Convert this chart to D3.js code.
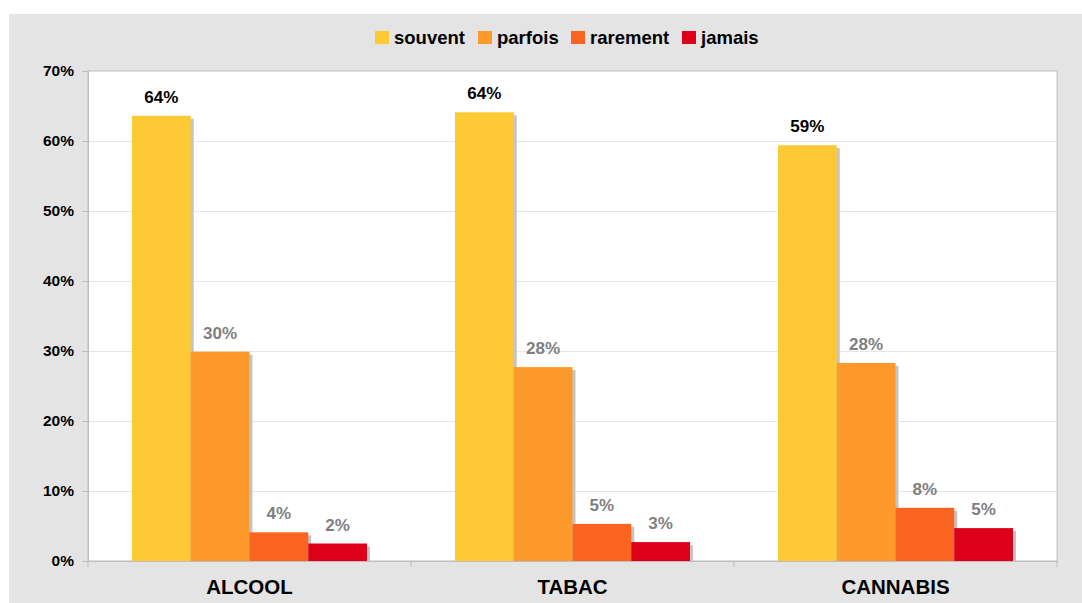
<!DOCTYPE html>
<html>
<head>
<meta charset="utf-8">
<script src="https://cdn.jsdelivr.net/npm/d3@7"></script>
<style>
  body { margin: 0; background: #fff; }
  svg { display: block; font-family: "Liberation Sans", Arial, sans-serif; font-weight: bold; }
</style>
</head>
<body>
<div id="chart"></div>
<script>
// Chart data.
var categories = ['ALCOOL', 'TABAC', 'CANNABIS'];
var seriesNames = ['souvent', 'parfois', 'rarement', 'jamais'];
var seriesColors = ['#fdc935', '#fd9a2b', '#fc6422', '#dc001a'];
var souvent = [63.6, 64.1, 59.4];
var parfois = [29.9, 27.7, 28.3];
var rarement = [4.1, 5.3, 7.6];
var jamais = [2.5, 2.7, 4.7];
var valueLabels = [
  ['64%', '30%', '4%', '2%'],
  ['64%', '28%', '5%', '3%'],
  ['59%', '28%', '8%', '5%']
];
var yTicks = [0, 10, 20, 30, 40, 50, 60, 70];

var series = [souvent, parfois, rarement, jamais];

var frame = { width: 1082, height: 603 };
var padding = { top: 71, left: 88, bottom: 42, right: 25 };
var size = {
  width: frame.width - padding.left - padding.right,
  height: frame.height - padding.top - padding.bottom
};

function translate(x, y) {
  return 'translate(' + x + ', ' + y + ')';
}

var svg = d3.select('#chart').append('svg')
  .attr('width', frame.width)
  .attr('height', frame.height);

// grey panel behind everything
svg.append('rect')
  .attr('x', 9).attr('y', 14)
  .attr('width', frame.width - 9).attr('height', frame.height - 14)
  .attr('fill', '#e4e4e4');

// legend
var legendX = [375, 478, 571, 682];
var legend = svg.append('g');
seriesNames.forEach(function(name, ii) {
  legend.append('rect')
    .attr('x', legendX[ii]).attr('y', 31)
    .attr('width', 14).attr('height', 13)
    .attr('fill', seriesColors[ii]);
  legend.append('text')
    .attr('x', legendX[ii] + 19).attr('y', 44)
    .attr('font-size', 18.5)
    .attr('fill', '#000')
    .text(name);
});

var g = svg.append('g').attr('transform', translate(padding.left, padding.top));

var x0 = d3.scaleBand()
  .domain(categories)
  .range([0, size.width]);

var x1 = d3.scaleBand()
  .domain(seriesNames)
  .range([44, x0.bandwidth() - 44]);

var y = d3.scaleLinear()
  .domain([0, 70])
  .range([size.height, 0]);

g.append('rect')
  .attr('width', size.width)
  .attr('height', size.height)
  .attr('fill', '#fff')
  .attr('stroke', '#bdbdbd');

// gridlines
g.selectAll('line.grid')
  .data(yTicks.slice(1, -1))
  .enter()
  .append('line')
  .attr('x1', 0).attr('x2', size.width)
  .attr('y1', function(d) { return y(d) + 0.5; })
  .attr('y2', function(d) { return y(d) + 0.5; })
  .attr('stroke', '#e6e6e6');

categories.forEach(function(cat, ci) {
  var cg = g.append('g').attr('transform', translate(x0(cat), 0));
  seriesNames.forEach(function(name, si) {
    var v = series[si][ci];
    var bx = x1(name);
    var bw = x1.bandwidth();
    // drop shadow
    cg.append('rect')
      .attr('x', bx + 3).attr('y', y(v) + 3)
      .attr('width', bw).attr('height', size.height - y(v) - 3)
      .attr('fill', '#c4c4c4');
    cg.append('rect')
      .attr('x', bx).attr('y', y(v))
      .attr('width', bw).attr('height', size.height - y(v))
      .attr('fill', seriesColors[si]);
    cg.append('text')
      .attr('x', bx + bw / 2)
      .attr('y', y(v) - 13)
      .attr('text-anchor', 'middle')
      .attr('font-size', 17)
      .attr('fill', si === 0 ? '#000' : '#7f7f7f')
      .text(valueLabels[ci][si]);
  });
});

// y axis
var yAxis = d3.axisLeft(y)
  .tickValues(yTicks)
  .tickSize(6)
  .tickPadding(8)
  .tickFormat(function(d) { return d + '%'; });

var ya = g.append('g').call(yAxis);
ya.select('.domain').attr('stroke', '#bdbdbd');
ya.selectAll('.tick line').attr('stroke', '#bdbdbd');
ya.selectAll('.tick text')
  .attr('font-size', 15.5)
  .attr('font-weight', 'bold')
  .attr('fill', '#000')
  .attr('font-family', '"Liberation Sans", Arial, sans-serif');

// x axis
var xAxis = d3.axisBottom(x0).tickSize(0).tickPadding(18);
var xa = g.append('g').attr('transform', translate(0, size.height)).call(xAxis);
xa.select('.domain').attr('stroke', '#bdbdbd');
xa.selectAll('.tick text')
  .attr('font-size', 20.5)
  .attr('font-weight', 'bold')
  .attr('fill', '#000')
  .attr('font-family', '"Liberation Sans", Arial, sans-serif');

// category separators below the axis
xa.selectAll('line.sep')
  .data(d3.range(categories.length + 1))
  .enter()
  .append('line')
  .attr('x1', function(d) { return d * x0.step(); })
  .attr('x2', function(d) { return d * x0.step(); })
  .attr('y1', 0).attr('y2', 6)
  .attr('stroke', '#bdbdbd');
</script>
</body>
</html>
